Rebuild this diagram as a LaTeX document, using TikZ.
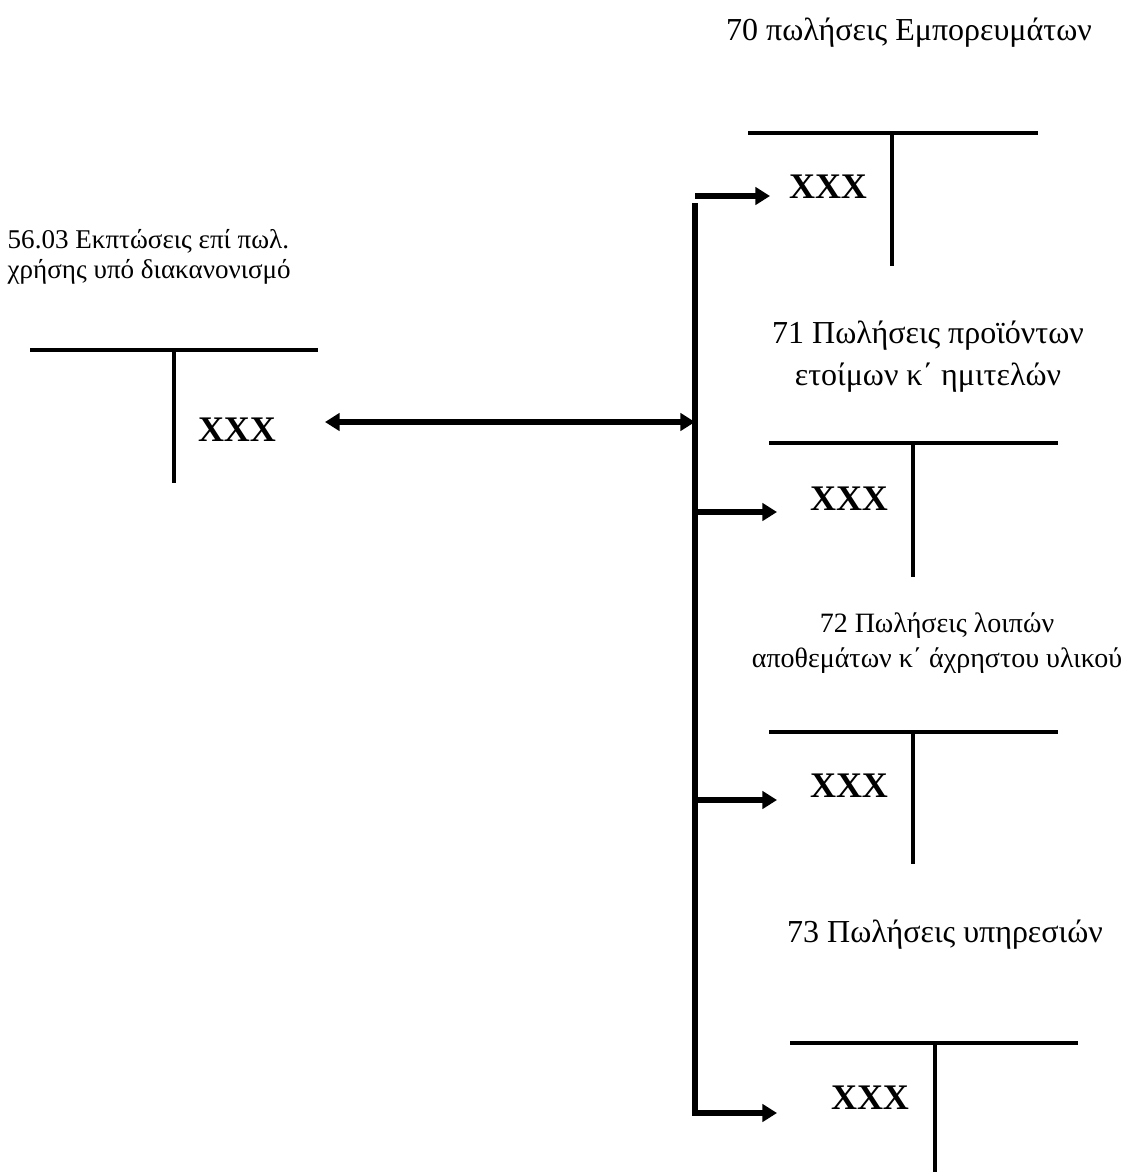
\documentclass[tikz,border=0pt]{standalone}
\usepackage{fontspec}
\setmainfont{Liberation Serif}
\usetikzlibrary{arrows.meta}

\tikzset{
  tline/.style={line width=3pt},
  tip/.tip={Triangle[length=11pt,width=13pt]},
  flow/.style={line width=4pt, -tip},
  amount/.style={font=\fontsize{27}{30}\selectfont\bfseries},
  acct/.style={font=\fontsize{24}{31.5}\selectfont, align=center},
  acctsmall/.style={font=\fontsize{20.3}{22}\selectfont, align=left, anchor=west},
}

\begin{document}
\begin{tikzpicture}[x=0.75pt,y=-0.75pt]
\useasboundingbox (0,0) rectangle (1132,1172);

% account titles
\node[acct] (t70) at (909,33) {70 πωλήσεις Εμπορευμάτων};
\node[acctsmall] (t56) at (3,257) {56.03 Εκπτώσεις επί πωλ.\\χρήσης υπό διακανονισμό};
\node[acct] (t71) at (928,357) {71 Πωλήσεις προϊόντων\\ετοίμων κ΄ ημιτελών};
\node[acct, font=\fontsize{21}{26}\selectfont] (t72) at (937,643) {72 Πωλήσεις λοιπών\\αποθεμάτων κ΄ άχρηστου υλικού};
\node[acct] (t73) at (945,935) {73 Πωλήσεις υπηρεσιών};

% T accounts
\draw[tline] (30,350) -- (318,350) (174,350) -- (174,483);
\draw[tline] (748,133) -- (1038,133) (892,133) -- (892,266);
\draw[tline] (769,443) -- (1058,443) (913,443) -- (913,577);
\draw[tline] (769,732) -- (1058,732) (913,732) -- (913,864);
\draw[tline] (790,1043) -- (1078,1043) (935,1043) -- (935,1172);

% amounts
\node[amount] (x56) at (237,430) {XXX};
\node[amount] (x70) at (828,187) {XXX};
\node[amount] (x71) at (849,499) {XXX};
\node[amount] (x72) at (849,786) {XXX};
\node[amount] (x73) at (870,1098) {XXX};

% bus and arrows
\coordinate (b70) at (695,196);
\coordinate (b56) at (695,422);
\coordinate (b71) at (695,512);
\coordinate (b72) at (695,800);
\coordinate (b73) at (695,1113);
\coordinate (e56) at (325,422);
\coordinate (e70) at (770,196);
\coordinate (e71) at (777,512);
\coordinate (e72) at (777,800);
\coordinate (e73) at (777,1113);

\draw[line width=4pt] (695,203) -- (b73);
\draw[flow] (b70) -- (e70);
\draw[flow] (b71) -- (e71);
\draw[flow] (b72) -- (e72);
\draw[flow, line cap=rect] (b73) -- (e73);
\draw[flow, tip-tip] (e56) -- (b56);
\end{tikzpicture}
\end{document}
